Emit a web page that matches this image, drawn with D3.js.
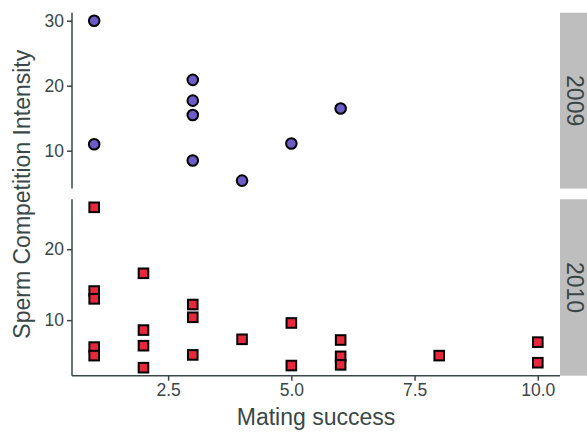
<!DOCTYPE html>
<html><head><meta charset="utf-8">
<script src="https://cdn.jsdelivr.net/npm/d3@7"></script>
<style>html,body{margin:0;padding:0;background:#fff;}svg{display:block;}</style>
</head><body>
<script>
// ---- data ----
const panels = ["2009", "2010"];
const x2009 = [1, 1, 3, 3, 3, 3, 4, 5, 6];
const y2009 = [30, 11, 20.9, 17.7, 15.5, 8.5, 5.4, 11.1, 16.5];
const x2010 = [1, 1, 1, 1, 1, 2, 2, 2, 2, 3, 3, 3, 4, 5, 5, 6, 6, 6, 8, 10, 10];
const y2010 = [25.9, 14.1, 13.0, 6.2, 5.0, 16.6, 8.6, 6.4, 3.3, 12.2, 10.4, 5.1, 7.3, 9.6, 3.6, 7.2, 4.9, 3.7, 5.0, 6.9, 4.0];
const xTicks = [2.5, 5.0, 7.5, 10.0];
const yTicks2009 = [10, 20, 30];
const yTicks2010 = [10, 20];
const xTitle = "Mating success";
const yTitle = "Sperm Competition Intensity";

const W = 587, H = 434;
const textCol = "#3a4747";
const font = "'Liberation Sans', Arial, sans-serif";
const svg = d3.select("body").append("svg").attr("width", W).attr("height", H);

const left = 72, right = 560;
const rows = [
  {name: panels[0], xs: x2009, ys: y2009, ticks: yTicks2009, top: 12.7, bottom: 188.6, shape: "circle", fill: "#6b5cc6"},
  {name: panels[1], xs: x2010, ys: y2010, ticks: yTicks2010, top: 199.3, bottom: 375.7, shape: "square", fill: "#e8283a"}
];

const allX = x2009.concat(x2010);
const xe = d3.extent(allX), xr = xe[1] - xe[0];
const x = d3.scaleLinear().domain([xe[0] - 0.05 * xr, xe[1] + 0.05 * xr]).range([left, right]);

rows.forEach((r, i) => {
  const ye = d3.extent(r.ys), yr = ye[1] - ye[0];
  const y = d3.scaleLinear().domain([ye[0] - 0.05 * yr, ye[1] + 0.05 * yr]).range([r.bottom, r.top]);
  const g = svg.append("g");

  // y axis
  const ya = svg.append("g").attr("transform", `translate(${left},0)`)
    .call(d3.axisLeft(y).tickValues(r.ticks).tickSize(5).tickPadding(3).tickFormat(d3.format("d")));
  ya.select(".domain").attr("stroke", textCol).attr("stroke-width", 1.5).attr("d", `M0,${r.top}V${r.bottom}`);
  ya.selectAll(".tick line").attr("stroke", textCol).attr("stroke-width", 1.5);
  ya.selectAll(".tick text").attr("fill", textCol).style("font-family", font).style("font-size", "17.5px");

  // strip
  svg.append("rect").attr("x", right).attr("y", r.top).attr("width", 34).attr("height", r.bottom - r.top).attr("fill", "#bebebe");
  svg.append("text").attr("transform", `translate(${right + 7},${(r.top + r.bottom) / 2}) rotate(90)`)
    .attr("text-anchor", "middle").attr("fill", textCol).style("font-family", font).style("font-size", "23px")
    .text(r.name);

  // points
  const pts = r.xs.map((v, k) => ({x: v, y: r.ys[k]}));
  if (r.shape === "circle") {
    g.selectAll("circle").data(pts).enter().append("circle")
      .attr("cx", d => x(d.x)).attr("cy", d => y(d.y)).attr("r", 5.3)
      .attr("fill", r.fill).attr("stroke", "#000").attr("stroke-width", 2);
  } else {
    const s = 9.6;
    g.selectAll("rect").data(pts).enter().append("rect")
      .attr("x", d => x(d.x) - s / 2).attr("y", d => y(d.y) - s / 2).attr("width", s).attr("height", s)
      .attr("fill", r.fill).attr("stroke", "#000").attr("stroke-width", 2);
  }

  if (i === rows.length - 1) {
    const xa = svg.append("g").attr("transform", `translate(0,${r.bottom})`)
      .call(d3.axisBottom(x).tickValues(xTicks).tickSize(5).tickPadding(3).tickFormat(d3.format(".1f")));
    xa.select(".domain").attr("stroke", textCol).attr("stroke-width", 1.5).attr("d", `M${left},0H${right}`);
    xa.selectAll(".tick line").attr("stroke", textCol).attr("stroke-width", 1.5);
    xa.selectAll(".tick text").attr("fill", textCol).style("font-family", font).style("font-size", "17.5px");
  }
});

// axis titles
svg.append("text").attr("x", (left + right) / 2).attr("y", 425)
  .attr("text-anchor", "middle").attr("fill", textCol).style("font-family", font).style("font-size", "23px")
  .text(xTitle);
svg.append("text").attr("transform", `translate(30,${(rows[0].top + rows[1].bottom) / 2}) rotate(-90)`)
  .attr("text-anchor", "middle").attr("fill", textCol).style("font-family", font).style("font-size", "23px")
  .text(yTitle);
</script>
</body></html>
